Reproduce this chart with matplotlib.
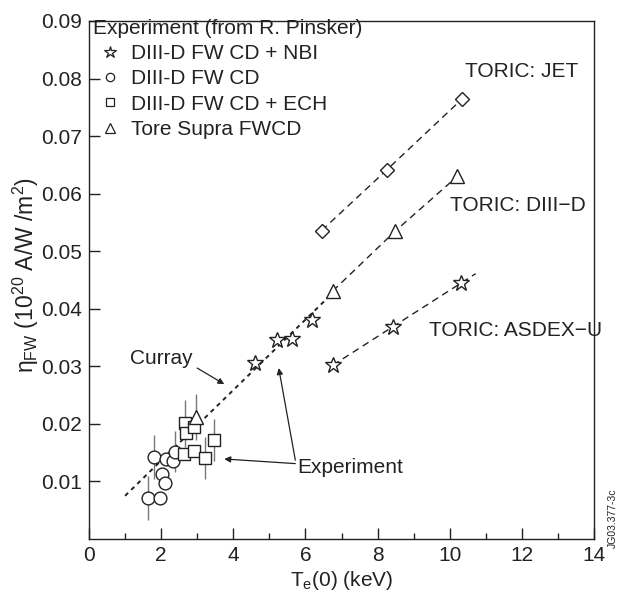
import matplotlib
matplotlib.use("Agg")
import matplotlib.pyplot as plt
from matplotlib.lines import Line2D

plt.rcParams['font.family'] = ['Liberation Sans', 'DejaVu Sans']
plt.rcParams['mathtext.fontset'] = 'custom'
plt.rcParams['mathtext.rm'] = 'Liberation Sans'
plt.rcParams['mathtext.it'] = 'Liberation Sans:italic'

# ---- data ----
jet_x = [6.45, 8.25, 10.35]
jet_y = [0.0536, 0.0641, 0.0765]

toric_d3d_x = [6.76, 8.49, 10.21]
toric_d3d_y = [0.0431, 0.0535, 0.0630]

asdex_x = [6.76, 8.43, 10.30]
asdex_y = [0.0302, 0.0368, 0.0444]
asdex_line_x = [6.76, 10.72]
asdex_line_y = [0.0302, 0.0461]

curray_x = [1.0, 6.7]
curray_y = [0.0075, 0.0424]

nbi_x = [4.61, 5.21, 5.63, 6.19]
nbi_y = [0.0306, 0.0346, 0.0347, 0.0380]

fwcd_x = [1.81, 2.13, 2.33, 2.39, 2.02, 2.10, 1.64, 1.98]
fwcd_y = [0.0142, 0.0139, 0.0135, 0.0152, 0.0113, 0.0097, 0.0071, 0.0071]
fwcd_err = [0.0038, 0, 0, 0.0035, 0, 0, 0.0038, 0]

ech_x = [2.65, 2.70, 2.92, 2.62, 2.90, 3.21, 3.47]
ech_y = [0.0201, 0.0184, 0.0195, 0.0147, 0.0153, 0.0141, 0.0172]
ech_err = [0.0041, 0, 0, 0, 0, 0.0037, 0.0037]

ts_x = [2.96]
ts_y = [0.0212]
ts_err = [0.0040]

xticks = [0, 2, 4, 6, 8, 10, 12, 14]
yticks = [0.01, 0.02, 0.03, 0.04, 0.05, 0.06, 0.07, 0.08, 0.09]

# ---- figure ----
fig = plt.figure(figsize=(6.23, 5.92), dpi=100)
ax = fig.add_axes([89/623, 1-539/592, (594-89)/623, (539-21)/592])

ink = '#222222'
errc = '#777777'

# lines
ax.plot(curray_x, curray_y, color=ink, lw=1.4, ls=(0, (2.2, 2.2)), zorder=2)
ax.plot(jet_x, jet_y, color=ink, lw=1.0, ls=(0, (5, 3.5)), zorder=2)
ax.plot(toric_d3d_x, toric_d3d_y, color=ink, lw=1.0, ls=(0, (5, 3.5)), zorder=2)
ax.plot(asdex_line_x, asdex_line_y, color=ink, lw=1.0, ls=(0, (5, 3.5)), zorder=2)

mk = dict(ls='none', mfc='white', mec=ink, mew=1.0, zorder=4)

# error bars
ax.errorbar(fwcd_x, fwcd_y, yerr=fwcd_err, fmt='none', ecolor=errc, elinewidth=1.0, capsize=0, zorder=3)
ax.errorbar(ech_x, ech_y, yerr=ech_err, fmt='none', ecolor=errc, elinewidth=1.0, capsize=0, zorder=3)
ax.errorbar(ts_x, ts_y, yerr=ts_err, fmt='none', ecolor=errc, elinewidth=1.0, capsize=0, zorder=3)

# markers
ax.plot(jet_x, jet_y, marker='D', ms=7.0, **mk)
ax.plot(toric_d3d_x, toric_d3d_y, marker='^', ms=10, **mk)
ax.plot(asdex_x, asdex_y, marker='*', ms=12, **mk)
ax.plot(nbi_x, nbi_y, marker='*', ms=12, **mk)
ax.plot(fwcd_x, fwcd_y, marker='o', ms=9.2, **mk)
ax.plot(ech_x, ech_y, marker='s', ms=8.6, **mk)
ax.plot(ts_x, ts_y, marker='^', ms=10, **mk)

# legend
handles = [
    Line2D([], [], marker='*', ms=9, mfc='white', mec=ink, mew=0.9, ls='none'),
    Line2D([], [], marker='o', ms=6, mfc='white', mec=ink, mew=0.9, ls='none'),
    Line2D([], [], marker='s', ms=6, mfc='white', mec=ink, mew=0.9, ls='none'),
    Line2D([], [], marker='^', ms=6.5, mfc='white', mec=ink, mew=0.9, ls='none'),
]
labels = ['DIII-D FW CD + NBI', 'DIII-D FW CD', 'DIII-D FW CD + ECH', 'Tore Supra FWCD']
leg = ax.legend(handles, labels, title='Experiment (from R. Pinsker)', loc='upper left',
                bbox_to_anchor=(0.0, 1.012), frameon=False, fontsize=15, title_fontsize=15,
                handlelength=1.6, handletextpad=0.2, labelspacing=0.3, borderpad=0.05,
                borderaxespad=0.15, alignment='left')
for t in leg.get_texts():
    t.set_color(ink)
leg.get_title().set_color(ink)

# text labels
ax.text(10.42, 0.0813, 'TORIC: JET', fontsize=15, color=ink, va='center', ha='left')
ax.text(10.0, 0.0580, 'TORIC: DIII\u2212D', fontsize=15, color=ink, va='center', ha='left')
ax.text(9.43, 0.0362, 'TORIC: ASDEX\u2212U', fontsize=15, color=ink, va='center', ha='left')

ax.text(2.0, 0.0314, 'Curray', fontsize=15, color=ink, va='center', ha='center')
ax.annotate('', xy=(3.75, 0.0269), xytext=(3.0, 0.0297),
            arrowprops=dict(arrowstyle='-|>', color=ink, lw=0.9, mutation_scale=9, shrinkA=0, shrinkB=0))

ax.text(5.78, 0.0125, 'Experiment', fontsize=15, color=ink, va='center', ha='left')
ax.annotate('', xy=(3.75, 0.0139), xytext=(5.72, 0.0131),
            arrowprops=dict(arrowstyle='-|>', color=ink, lw=0.9, mutation_scale=9, shrinkA=0, shrinkB=0))
ax.annotate('', xy=(5.26, 0.0297), xytext=(5.72, 0.0137),
            arrowprops=dict(arrowstyle='-|>', color=ink, lw=0.9, mutation_scale=9, shrinkA=0, shrinkB=0))

# axes
ax.set_xlim(0, 14)
ax.set_ylim(0, 0.09)
ax.set_xticks(xticks)
ax.set_xticklabels([str(v) for v in xticks])
ax.set_xticks([1, 3, 5, 7, 9, 11, 13], minor=True)
ax.set_yticks(yticks)
ax.set_yticklabels(['%.2f' % v for v in yticks])
ax.tick_params(axis='both', which='major', direction='in', length=8, width=1.0, color=ink,
               labelsize=15, labelcolor=ink, pad=5)
ax.tick_params(axis='x', which='minor', direction='in', length=4.5, width=1.0, color=ink)
for s in ax.spines.values():
    s.set_color(ink)
    s.set_linewidth(1.0)

ax.set_xlabel('T$_{\\rm e}$(0) (keV)', fontsize=15, color=ink, labelpad=3)
ax.set_ylabel('\u03b7$_{\\rm FW}$ (10$^{20}$ A/W /m$^2$)', fontsize=16.5, color=ink)
ax.yaxis.set_label_coords(-0.095, 0.51)

fig.text(613/623, 1-518/592, 'JG03.377-3c', rotation=90, fontsize=7.5, color=ink,
         ha='center', va='center')

fig.savefig('out.png', dpi=100)
